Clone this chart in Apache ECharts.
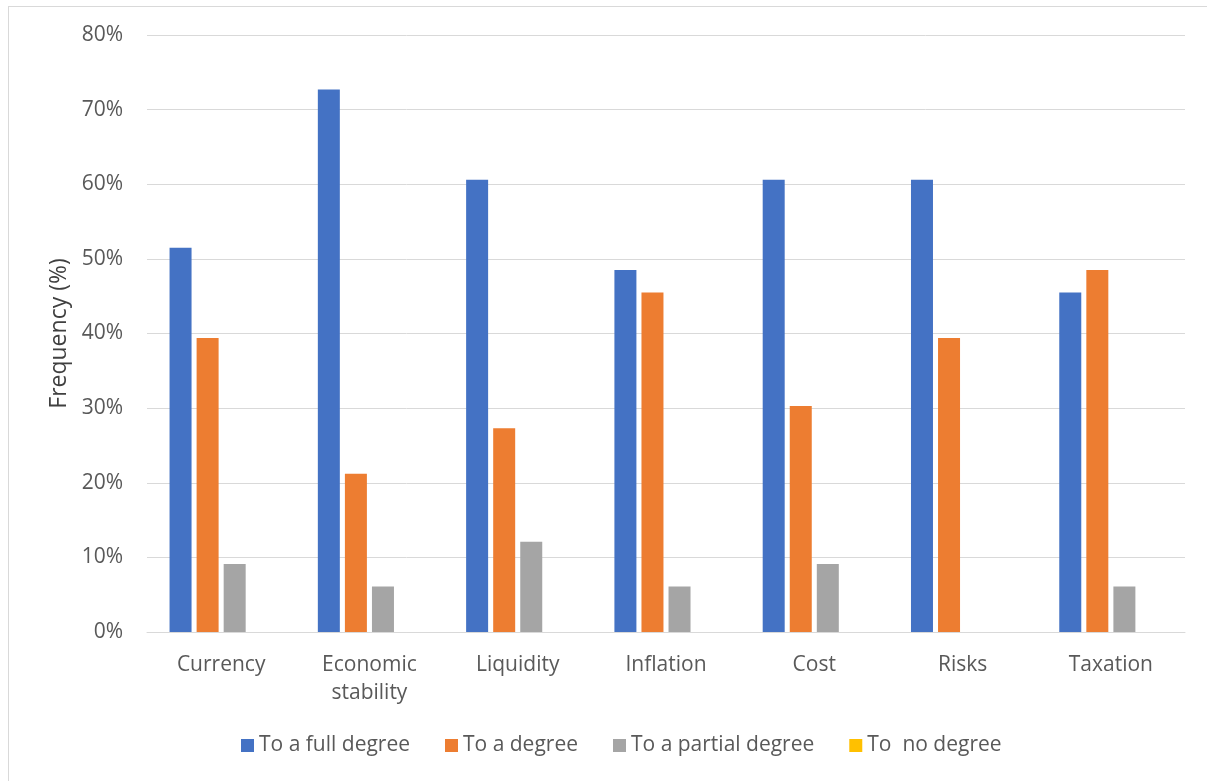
<!DOCTYPE html>
<html>
<head>
<meta charset="utf-8">
<script src="https://cdn.jsdelivr.net/npm/echarts@6/dist/echarts.min.js"></script>
<style>
  html, body { margin: 0; padding: 0; background: #fff; }
  #frame { position: absolute; left: 8px; top: 6px; width: 1220px; height: 800px; border: 1px solid #d9d9d9; box-sizing: border-box; }
  #chart { position: absolute; left: 0; top: 0; width: 1207px; height: 781px; }
</style>
</head>
<body>
<div id="frame"></div>
<div id="chart"></div>
<script>
// Survey factors and share of respondents (%) per response level
const categories = ['Currency', 'Economic\nstability', 'Liquidity', 'Inflation', 'Cost', 'Risks', 'Taxation'];
const fullDegree    = [51.5, 72.7, 60.6, 48.5, 60.6, 60.6, 45.5];
const aDegree       = [39.4, 21.2, 27.3, 45.5, 30.3, 39.4, 48.5];
const partialDegree = [9.1, 6.1, 12.1, 6.1, 9.1, 0, 6.1];
const noDegree      = [0, 0, 0, 0, 0, 0, 0];
const seriesNames = ['To a full degree', 'To a degree', 'To a partial degree', 'To  no degree'];
const yTicks = [0, 10, 20, 30, 40, 50, 60, 70, 80];
const yTitle = 'Frequency (%)';

const colors = ['#4472c4', '#ed7d31', '#a5a5a5', '#ffc000'];
const font = '"Open Sans", "Liberation Sans", sans-serif';
const values = [fullDegree, aDegree, partialDegree, noDegree];

const chart = echarts.init(document.getElementById('chart'));
chart.setOption({
  animation: false,
  color: colors,
  grid: { left: 147, right: 22, top: 35, bottom: 149, containLabel: false },
  legend: {
    bottom: 20,
    left: 236,
    itemWidth: 13,
    itemHeight: 13,
    itemGap: 35,
    icon: 'rect',
    textStyle: { color: '#595959', fontSize: 21, fontFamily: font },
    data: seriesNames
  },
  xAxis: {
    type: 'category',
    data: categories,
    axisTick: { show: false },
    axisLine: { lineStyle: { color: '#d9d9d9', width: 1 } },
    axisLabel: { color: '#595959', fontSize: 21, fontFamily: font, margin: 19, lineHeight: 28 }
  },
  yAxis: {
    type: 'value',
    min: yTicks[0],
    max: yTicks[yTicks.length - 1],
    interval: 10,
    name: yTitle,
    nameLocation: 'middle',
    nameGap: 73,
    nameTextStyle: { color: '#404040', fontSize: 23, fontFamily: font },
    axisLine: { show: false },
    axisTick: { show: false },
    splitLine: { lineStyle: { color: '#d9d9d9', width: 1 } },
    axisLabel: { color: '#595959', fontSize: 21, fontFamily: font, margin: 24, formatter: v => v + '%' }
  },
  series: seriesNames.map((name, i) => ({
    name,
    type: 'bar',
    data: values[i],
    barWidth: 22,
    barGap: '23%',
    itemStyle: { color: colors[i] }
  }))
});
</script>
</body>
</html>
